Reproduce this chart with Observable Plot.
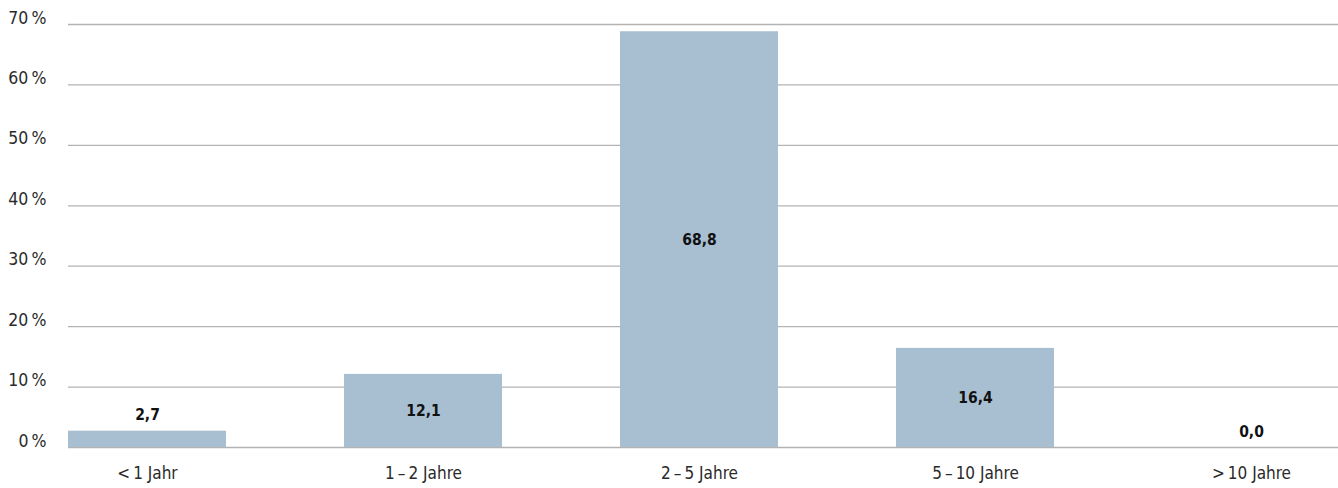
<!DOCTYPE html>
<html>
<head>
<meta charset="utf-8">
<script src="https://cdn.jsdelivr.net/npm/d3@7"></script>
<script src="https://cdn.jsdelivr.net/npm/@observablehq/plot@0.6"></script>
<style>
  html, body { margin: 0; padding: 0; background: #fff; }
  #chart svg { display: block; }
</style>
</head>
<body>
<div id="chart"></div>
<script>
const categories = ["<\u20091 Jahr", "1\u2009\u2013\u20092 Jahre", "2\u2009\u2013\u20095 Jahre", "5\u2009\u2013\u200910 Jahre", ">\u200910 Jahre"];
const values = [2.7, 12.1, 68.8, 16.4, 0.0];
const yTicks = [0, 10, 20, 30, 40, 50, 60, 70];

const data = categories.map((c, i) => ({cat: c, v: values[i]}));
const fmt = v => v.toFixed(1).replace(".", ",");
const small = data.filter(d => d.v < 5);
const big = data.filter(d => d.v >= 5);

const font = "'DejaVu Sans Condensed', 'Roboto Condensed', sans-serif";

const chart = Plot.plot({
  width: 1338,
  height: 488,
  marginLeft: 68,
  marginRight: 0,
  marginTop: 24,
  marginBottom: 41,
  style: {fontFamily: font, fontSize: "17px", color: "#2a2a2a", background: "#fff"},
  x: {domain: categories, paddingInner: 0.4275, paddingOuter: 0, insetRight: 7, label: null},
  y: {domain: [0, 70], label: null},
  marks: [
    Plot.ruleY(yTicks, {stroke: "#b3b3b3", strokeWidth: 1.3}),
    Plot.barY(data, {x: "cat", y: "v", fill: "#a8bfd2"}),
    Plot.text(big, {x: "cat", y: d => d.v / 2, text: d => fmt(d.v), fontWeight: "bold", fontSize: 15.5, fill: "#111"}),
    Plot.text(small, {x: "cat", y: "v", text: d => fmt(d.v), fontWeight: "bold", fontSize: 15.5, fill: "#111", lineAnchor: "bottom", dy: -11}),
    Plot.axisY({ticks: yTicks, tickSize: 0, tickPadding: 22, tickFormat: d => d + "\u2009%", dy: -6.5, fontSize: 17.5}),
    Plot.axisX({tickSize: 0, tickPadding: 19, fontSize: 17})
  ]
});
document.getElementById("chart").appendChild(chart);
</script>
</body>
</html>
